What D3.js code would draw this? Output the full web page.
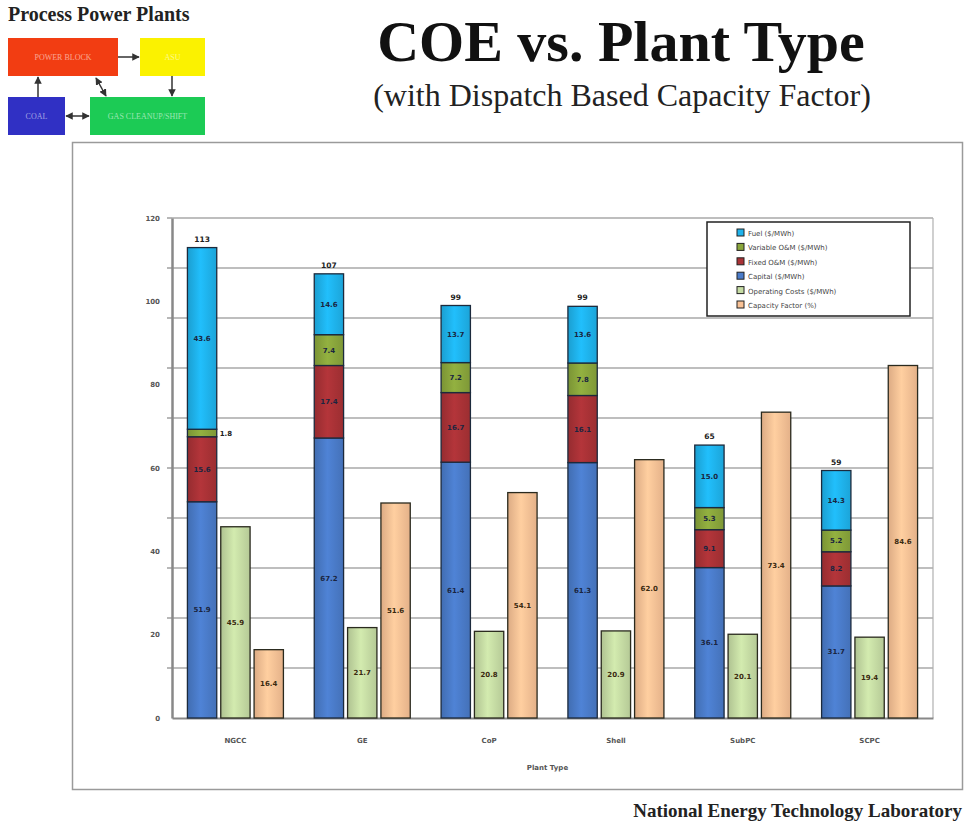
<!DOCTYPE html>
<html>
<head>
<meta charset="utf-8">
<script src="https://cdn.jsdelivr.net/npm/d3@7"></script>
<style>
  html, body { margin: 0; padding: 0; background: #fff; }
  svg { display: block; }
</style>
</head>
<body>
<svg id="chart" width="965" height="825"></svg>
<script>
// ---- data ----
const categories = ["NGCC", "GE", "CoP", "Shell", "SubPC", "SCPC"];
const capital = [51.9, 67.2, 61.4, 61.3, 36.1, 31.7];
const fixedOM = [15.6, 17.4, 16.7, 16.1, 9.1, 8.2];
const variableOM = [1.8, 7.4, 7.2, 7.8, 5.3, 5.2];
const fuel = [43.6, 14.6, 13.7, 13.6, 15.0, 14.3];
const totals = [113, 107, 99, 99, 65, 59];
const operatingCosts = [45.9, 21.7, 20.8, 20.9, 20.1, 19.4];
const capacityFactor = [16.4, 51.6, 54.1, 62.0, 73.4, 84.6];
const yTickLabels = [0, 20, 40, 60, 80, 100, 120];
const gridValues = [12, 24, 36, 48, 60, 72, 84, 96, 108, 120];
const legendLabels = ["Fuel ($/MWh)", "Variable O&M ($/MWh)", "Fixed O&M ($/MWh)",
  "Capital ($/MWh)", "Operating Costs ($/MWh)", "Capacity Factor (%)"];

const colors = {
  capital: "#4a7bc9", fixedOM: "#a93236", variableOM: "#8aa63c", fuel: "#1fb3ec",
  operatingCosts: "#c6dca4", capacityFactor: "#f9c296"
};

(function () {
const svg = d3.select("#chart");
const defs = svg.append("defs");

// horizontal gradients (Excel-like shading)
Object.keys(colors).forEach(k => {
  const base = d3.color(colors[k]);
  const gr = defs.append("linearGradient").attr("id", "g-" + k)
    .attr("x1", "0%").attr("x2", "100%").attr("y1", "0%").attr("y2", "0%");
  gr.append("stop").attr("offset", "0%").attr("stop-color", base.darker(0.35));
  gr.append("stop").attr("offset", "45%").attr("stop-color", base.brighter(0.18));
  gr.append("stop").attr("offset", "100%").attr("stop-color", base.darker(0.25));
});

// ---- top-left diagram ----
const serif = "'Liberation Serif', 'Times New Roman', serif";
svg.append("text").attr("x", 8).attr("y", 21).attr("font-family", serif)
  .attr("font-weight", "bold").attr("font-size", 20).attr("fill", "#222")
  .text("Process Power Plants");

defs.append("marker").attr("id", "arr").attr("viewBox", "0 0 10 10")
  .attr("refX", 9).attr("refY", 5).attr("markerWidth", 5).attr("markerHeight", 5)
  .attr("orient", "auto-start-reverse")
  .append("path").attr("d", "M0,0L10,5L0,10z").attr("fill", "#333");

const boxes = [
  {x: 8, y: 38, w: 110, h: 38, fill: "#f23d12", label: "POWER BLOCK"},
  {x: 140, y: 38, w: 65, h: 38, fill: "#fbf200", label: "ASU"},
  {x: 8, y: 97, w: 57, h: 38, fill: "#3030c4", label: "COAL"},
  {x: 90, y: 97, w: 115, h: 38, fill: "#1ccb55", label: "GAS CLEANUP/SHIFT"}
];
boxes.forEach(b => {
  svg.append("rect").attr("x", b.x).attr("y", b.y).attr("width", b.w).attr("height", b.h)
    .attr("fill", b.fill);
  svg.append("text").attr("x", b.x + b.w / 2).attr("y", b.y + b.h / 2 + 3)
    .attr("text-anchor", "middle").attr("font-family", serif).attr("font-size", 8)
    .attr("fill", "rgba(255,255,255,0.55)").text(b.label);
});
const arrows = [
  [118, 57, 139, 57, false], [172, 76, 172, 96, false], [38, 97, 38, 77, false],
  [66, 116, 89, 116, true], [106, 96, 96, 78, true]
];
arrows.forEach(a => {
  const l = svg.append("line").attr("x1", a[0]).attr("y1", a[1]).attr("x2", a[2]).attr("y2", a[3])
    .attr("stroke", "#333").attr("stroke-width", 1.5).attr("marker-end", "url(#arr)");
  if (a[4]) l.attr("marker-start", "url(#arr)");
});

// ---- titles ----
svg.append("text").attr("x", 621).attr("y", 61).attr("text-anchor", "middle")
  .attr("font-family", serif).attr("font-weight", "bold").attr("font-size", 58)
  .attr("fill", "#111").text("COE vs. Plant Type");
svg.append("text").attr("x", 622).attr("y", 106).attr("text-anchor", "middle")
  .attr("font-family", serif).attr("font-size", 32).attr("fill", "#222")
  .text("(with Dispatch Based Capacity Factor)");
svg.append("text").attr("x", 962).attr("y", 817).attr("text-anchor", "end")
  .attr("font-family", serif).attr("font-weight", "bold").attr("font-size", 19)
  .attr("fill", "#222").text("National Energy Technology Laboratory");

// ---- chart frame ----
svg.append("rect").attr("x", 72.5).attr("y", 142.5).attr("width", 890).attr("height", 647)
  .attr("fill", "#fff").attr("stroke", "#9a9a9a").attr("stroke-width", 1.5);

// ---- scales ----
const pLeft = 172, pRight = 933, pTop = 218, pBottom = 718;
const x = d3.scaleBand().domain(categories).range([pLeft, pRight]).paddingInner(0).paddingOuter(0);
const y = d3.scaleLinear().domain([0, 120]).range([pBottom, pTop]);
const sub = d3.scaleBand().domain(["stack", "ops", "cf"]).range([-48, 48]).paddingInner(0.12);

// gridlines
svg.append("g").selectAll("line").data(gridValues).join("line")
  .attr("x1", pLeft).attr("x2", pRight).attr("y1", d => y(d)).attr("y2", d => y(d))
  .attr("stroke", "#a8a8a8").attr("stroke-width", 1.6);
svg.append("line").attr("x1", pRight).attr("x2", pRight).attr("y1", pTop).attr("y2", pBottom)
  .attr("stroke", "#b0b0b0").attr("stroke-width", 1.2);

// y axis
const yAxis = d3.axisLeft(y).tickValues(yTickLabels).tickSize(0).tickPadding(12);
const ya = svg.append("g").attr("transform", `translate(${pLeft},0)`).call(yAxis);
ya.select(".domain").attr("stroke", "#888").attr("stroke-width", 2.5);
ya.selectAll("text").attr("font-family", "'DejaVu Sans', sans-serif").attr("font-size", 7)
  .attr("font-weight", "bold").attr("fill", "#555");
svg.append("g").selectAll("line").data(gridValues).join("line")
  .attr("x1", pLeft - 5).attr("x2", pLeft).attr("y1", d => y(d)).attr("y2", d => y(d))
  .attr("stroke", "#888").attr("stroke-width", 1.2);

// x axis
const xAxis = d3.axisBottom(x).tickSize(0).tickPadding(20);
const xa = svg.append("g").attr("transform", `translate(0,${pBottom})`).call(xAxis);
xa.select(".domain").attr("stroke", "#888").attr("stroke-width", 2);
xa.selectAll("text").attr("font-family", "'DejaVu Sans', sans-serif").attr("font-size", 7)
  .attr("font-weight", "bold").attr("fill", "#555");
svg.append("text").attr("x", (pLeft + pRight) / 2 - 5).attr("y", 770).attr("text-anchor", "middle")
  .attr("font-family", "'DejaVu Sans', sans-serif").attr("font-size", 7).attr("font-weight", "bold")
  .attr("fill", "#555").text("Plant Type");

// ---- stacked bars ----
const stackKeys = ["capital", "fixedOM", "variableOM", "fuel"];
const stackData = categories.map((c, i) => ({
  cat: c, capital: capital[i], fixedOM: fixedOM[i], variableOM: variableOM[i], fuel: fuel[i]
}));
const series = d3.stack().keys(stackKeys)(stackData);
const bw = sub.bandwidth();
const cx = c => x(c) + x.bandwidth() / 2;
const lblFont = "'DejaVu Sans', sans-serif";

series.forEach(s => {
  const g = svg.append("g");
  g.selectAll("rect").data(s).join("rect")
    .attr("x", d => cx(d.data.cat) + sub("stack"))
    .attr("y", d => y(d[1]))
    .attr("width", bw)
    .attr("height", d => y(d[0]) - y(d[1]))
    .attr("fill", `url(#g-${s.key})`).attr("stroke", "#1c2a3c").attr("stroke-width", 1.3);
  g.selectAll("text").data(s).join("text")
    .attr("x", d => {
      const small = (y(d[0]) - y(d[1])) < 9;
      return cx(d.data.cat) + sub("stack") + (small ? bw + 3 : bw / 2);
    })
    .attr("y", d => (y(d[0]) + y(d[1])) / 2 + 2.5)
    .attr("text-anchor", d => (y(d[0]) - y(d[1])) < 9 ? "start" : "middle")
    .attr("font-family", lblFont).attr("font-size", 7).attr("font-weight", "bold")
    .attr("fill", d => (y(d[0]) - y(d[1])) < 9 ? "#222" : "#1a2540")
    .text(d => (d[1] - d[0]).toFixed(1));
});

// totals
svg.append("g").selectAll("text").data(categories).join("text")
  .attr("x", c => cx(c) + sub("stack") + bw / 2)
  .attr("y", (c, i) => y(capital[i] + fixedOM[i] + variableOM[i] + fuel[i]) - 6)
  .attr("text-anchor", "middle").attr("font-family", lblFont).attr("font-size", 7.5)
  .attr("font-weight", "bold").attr("fill", "#222").text((c, i) => totals[i]);

// ---- operating costs & capacity factor bars ----
function simpleBars(key, values, colorKey) {
  const g = svg.append("g");
  g.selectAll("rect").data(categories).join("rect")
    .attr("x", c => cx(c) + sub(key)).attr("y", (c, i) => y(values[i]))
    .attr("width", bw).attr("height", (c, i) => pBottom - y(values[i]))
    .attr("fill", `url(#g-${colorKey})`).attr("stroke", "#2a2a1e").attr("stroke-width", 1.3);
  g.selectAll("text").data(categories).join("text")
    .attr("x", c => cx(c) + sub(key) + bw / 2)
    .attr("y", (c, i) => (y(values[i]) + pBottom) / 2 + 2.5)
    .attr("text-anchor", "middle").attr("font-family", lblFont).attr("font-size", 7)
    .attr("font-weight", "bold").attr("fill", "#3a2a10").text((c, i) => values[i].toFixed(1));
}
simpleBars("ops", operatingCosts, "operatingCosts");
simpleBars("cf", capacityFactor, "capacityFactor");

// ---- legend ----
const legendColors = [colors.fuel, colors.variableOM, colors.fixedOM, colors.capital,
  colors.operatingCosts, colors.capacityFactor];
const lg = svg.append("g").attr("transform", "translate(707,222)");
lg.append("rect").attr("width", 203).attr("height", 94).attr("fill", "#fff")
  .attr("stroke", "#222").attr("stroke-width", 1.5);
const li = lg.selectAll("g").data(legendLabels).join("g")
  .attr("transform", (d, i) => `translate(30,${11 + i * 14.4})`);
li.append("rect").attr("x", 0).attr("y", -4).attr("width", 7).attr("height", 7)
  .attr("fill", (d, i) => legendColors[i]).attr("stroke", "#222").attr("stroke-width", 1);
li.append("text").attr("x", 11).attr("y", 3).attr("font-family", lblFont).attr("font-size", 7)
  .attr("fill", "#444").text(d => d);
})();
</script>
</body>
</html>
